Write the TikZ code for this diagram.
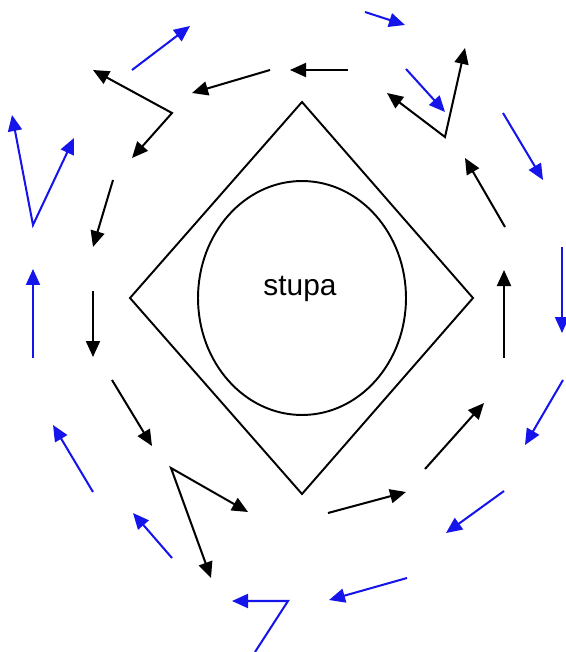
\documentclass[tikz,border=0pt]{standalone}
\usepackage{fontspec}
\setsansfont{Liberation Sans}
\usetikzlibrary{arrows.meta,shapes.geometric}
\definecolor{walkblue}{RGB}{20,20,235}
\newcommand{\stupafont}{\sffamily\fontsize{17}{20}\selectfont}

\begin{document}
\begin{tikzpicture}[x=0.02cm,y=-0.02cm,
        innerwalk/.style={-{Triangle[length=0.32cm,width=0.28cm]},line width=1.15pt,black},
        outerwalk/.style={-{Triangle[length=0.32cm,width=0.28cm]},line width=1.15pt,walkblue},
        twoway/.style={{Triangle[length=0.32cm,width=0.28cm]}-{Triangle[length=0.32cm,width=0.28cm]}}]
        \useasboundingbox (0,0) rectangle (565,652);
        % stupa and terrace
        \coordinate (dtop) at (302,102); \coordinate (dright) at (473,298);
        \coordinate (dbottom) at (302,494); \coordinate (dleft) at (130,298);
        \draw[line width=1.1pt] (dtop) -- (dright) -- (dbottom) -- (dleft) -- cycle;
        \node[draw,ellipse,line width=1.1pt,minimum width=4.16cm,minimum height=4.68cm] (stupa) at (302,298) {};
        \node[font=\stupafont] (stupatext) at (300,289) {stupa};
        % inner path (black)
        \coordinate (in1a) at (270,70);  \coordinate (in1b) at (192,93);
        \coordinate (in2a) at (348,70);  \coordinate (in2b) at (290,70);
        \coordinate (in3a) at (93,70);   \coordinate (in3v) at (172,113); \coordinate (in3b) at (132,158);
        \coordinate (in4a) at (113,180); \coordinate (in4b) at (93,247);
        \coordinate (in5a) at (93,291);  \coordinate (in5b) at (93,357);
        \coordinate (in6a) at (112,380); \coordinate (in6b) at (152,446);
        \coordinate (in7a) at (248,512); \coordinate (in7v) at (171,468); \coordinate (in7b) at (211,578);
        \coordinate (in8a) at (328,513); \coordinate (in8b) at (406,492);
        \coordinate (in9a) at (425,469); \coordinate (in9b) at (484,403);
        \coordinate (in10a) at (504,358); \coordinate (in10b) at (504,270);
        \coordinate (in11a) at (505,227); \coordinate (in11b) at (465,158);
        \coordinate (in12a) at (387,93); \coordinate (in12v) at (445,137); \coordinate (in12b) at (465,48);
        \draw[innerwalk] (in1a) -- (in1b);
        \draw[innerwalk] (in2a) -- (in2b);
        \draw[innerwalk,twoway] (in3a) -- (in3v) -- (in3b);
        \draw[innerwalk] (in4a) -- (in4b);
        \draw[innerwalk] (in5a) -- (in5b);
        \draw[innerwalk] (in6a) -- (in6b);
        \draw[innerwalk,twoway] (in7a) -- (in7v) -- (in7b);
        \draw[innerwalk] (in8a) -- (in8b);
        \draw[innerwalk] (in9a) -- (in9b);
        \draw[innerwalk] (in10a) -- (in10b);
        \draw[innerwalk] (in11a) -- (in11b);
        \draw[innerwalk,twoway] (in12a) -- (in12v) -- (in12b);
        % outer path (blue)
        \coordinate (out1a) at (132,70);  \coordinate (out1b) at (190,26);
        \coordinate (out2a) at (365,12);  \coordinate (out2b) at (405,25);
        \coordinate (out3a) at (406,69);  \coordinate (out3b) at (445,112);
        \coordinate (out4a) at (503,113); \coordinate (out4b) at (543,180);
        \coordinate (out5a) at (562,247); \coordinate (out5b) at (562,333);
        \coordinate (out6a) at (563,380); \coordinate (out6b) at (525,445);
        \coordinate (out7a) at (504,491); \coordinate (out7b) at (446,533);
        \coordinate (out8a) at (407,578); \coordinate (out8b) at (329,600);
        \coordinate (out9a) at (255,652); \coordinate (out9v) at (288,601); \coordinate (out9b) at (232,601);
        \coordinate (out10a) at (172,558); \coordinate (out10b) at (133,513);
        \coordinate (out11a) at (93,492); \coordinate (out11b) at (53,425);
        \coordinate (out12a) at (33,358); \coordinate (out12b) at (33,269);
        \coordinate (out13a) at (12,115); \coordinate (out13v) at (33,225); \coordinate (out13b) at (74,138);
        \draw[outerwalk] (out1a) -- (out1b);
        \draw[outerwalk] (out2a) -- (out2b);
        \draw[outerwalk] (out3a) -- (out3b);
        \draw[outerwalk] (out4a) -- (out4b);
        \draw[outerwalk] (out5a) -- (out5b);
        \draw[outerwalk] (out6a) -- (out6b);
        \draw[outerwalk] (out7a) -- (out7b);
        \draw[outerwalk] (out8a) -- (out8b);
        \draw[outerwalk] (out9a) -- (out9v) -- (out9b);
        \draw[outerwalk] (out10a) -- (out10b);
        \draw[outerwalk] (out11a) -- (out11b);
        \draw[outerwalk] (out12a) -- (out12b);
        \draw[outerwalk,twoway] (out13a) -- (out13v) -- (out13b);
      \end{tikzpicture}
\end{document}
